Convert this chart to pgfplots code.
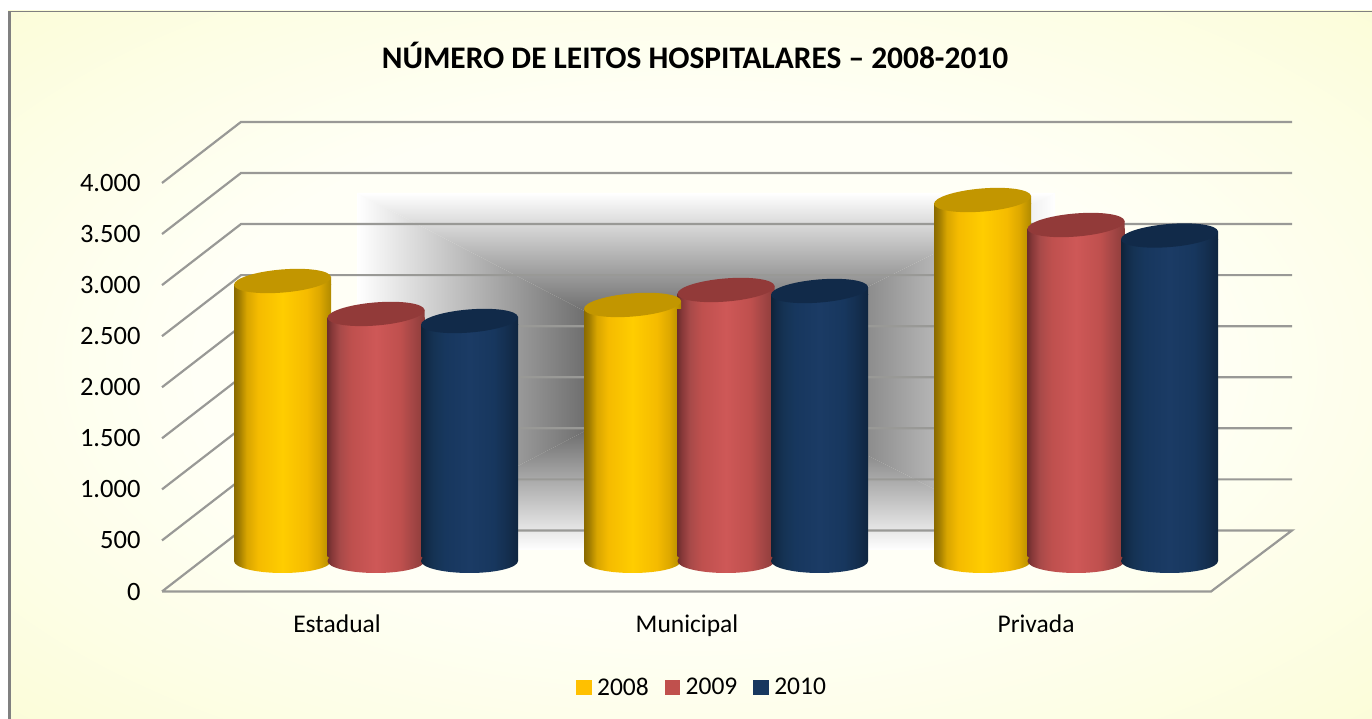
\documentclass[border=0pt]{standalone}
\usepackage{pgfplots}
\usepackage{pgfplotstable}
\usepackage{fontspec}
\setmainfont{Carlito}
\pgfplotsset{compat=1.18}

\definecolor{yA}{HTML}{8A6A00}\definecolor{yB}{HTML}{A07C00}\definecolor{yC}{HTML}{D8A500}
\definecolor{yD}{HTML}{F5BB00}\definecolor{yE}{HTML}{FFCD00}\definecolor{yF}{HTML}{DDA800}\definecolor{yG}{HTML}{B08A00}
\definecolor{rA}{HTML}{6E2E2E}\definecolor{rB}{HTML}{8A3A3A}\definecolor{rC}{HTML}{A84A49}
\definecolor{rD}{HTML}{BF504E}\definecolor{rE}{HTML}{CE5857}\definecolor{rF}{HTML}{A34645}\definecolor{rG}{HTML}{8C3C3A}
\definecolor{bA}{HTML}{0E2238}\definecolor{bB}{HTML}{112A47}\definecolor{bC}{HTML}{153354}
\definecolor{bD}{HTML}{17375E}\definecolor{bE}{HTML}{1B3B65}\definecolor{bF}{HTML}{142F50}\definecolor{bG}{HTML}{0F2540}
\definecolor{topY}{HTML}{C29600}\definecolor{topR}{HTML}{923A39}\definecolor{topB}{HTML}{112A49}
\definecolor{legY}{HTML}{FFC000}\definecolor{legR}{HTML}{C0504D}\definecolor{legB}{HTML}{17375E}
\definecolor{gridc}{HTML}{999996}
\definecolor{panelO}{HTML}{FBFCD6}\definecolor{panelM}{HTML}{FDFEE6}\definecolor{panelI}{HTML}{FFFFF6}

\newcommand\barshading[8]{\pgfdeclarehorizontalshading{#1}{100bp}{%
 color(0bp)=(#2); color(25bp)=(#2); color(27.5bp)=(#3); color(31.5bp)=(#4); color(37.5bp)=(#5);
 color(50bp)=(#6); color(62.5bp)=(#5); color(69bp)=(#7); color(75bp)=(#8); color(100bp)=(#8)}}
\barshading{barY}{yA}{yB}{yC}{yD}{yE}{yF}{yG}
\barshading{barR}{rA}{rB}{rC}{rD}{rE}{rF}{rG}
\barshading{barB}{bA}{bB}{bC}{bD}{bE}{bF}{bG}
\pgfdeclareradialshading{panelshade}{\pgfpoint{0bp}{0bp}}{%
 color(0bp)=(panelI); color(18bp)=(panelI); color(28bp)=(panelM); color(37bp)=(panelO); color(100bp)=(panelO)}

% top and bottom faces of a cylinder, centred on the data point
\newcommand\cylmarks[3]{%
 \pgfdeclareplotmark{cyltop#1}{%
  \begin{pgfscope}%
   \pgfpathmoveto{\pgfqpoint{-48.5pt}{-4pt}}%
   \pgfpathlineto{\pgfqpoint{48.5pt}{4pt}}%
   \pgfpathlineto{\pgfqpoint{48.5pt}{-4pt}}%
   \pgfpathclose
   \pgfshadepath{#2}{0}%
   \pgfusepath{}%
  \end{pgfscope}%
  \pgfpathellipse{\pgfpointorigin}{\pgfqpoint{48.5pt}{4pt}}{\pgfqpoint{-1pt}{11.5pt}}%
  \pgfsetfillcolor{#3}\pgfusepathqfill}%
 \pgfdeclareplotmark{cylbot#1}{%
  \begin{pgfscope}%
   \pgfpathellipse{\pgfpointorigin}{\pgfqpoint{48.5pt}{0pt}}{\pgfqpoint{0pt}{12pt}}%
   \pgfshadepath{#2}{0}%
   \pgfusepath{}%
  \end{pgfscope}}}
\cylmarks{Y}{barY}{topY}
\cylmarks{R}{barR}{topR}
\cylmarks{B}{barB}{topB}

\pgfplotstableread{
cat y08 y09 y10
0 2745 2422 2353
1 2510 2657 2647
2 3539 3294 3191
}\leitos

\newcommand\tfont{\fontsize{25.5}{30}\selectfont}
\newcommand\nfont{\fontsize{26.5}{30}\selectfont}
\newcommand\ttfontt{\fontsize{31.4}{36}\selectfont}
% one cylinder body: shading, shift, column, row, row+1
\newcommand\onebar[5]{\addplot[forget plot,ybar,bar width=97pt,bar shift=#2pt,draw=none,shading=#1,
  skip coords between index={0}{#4},skip coords between index={#5}{9}] table[x=cat,y expr=\thisrow{#3}-39] {\leitos};}

\begin{document}
\begin{tikzpicture}
\useasboundingbox (0,0) rectangle (1372pt,719pt);
\begin{scope}[x=1pt,y=-1pt,shift={(0pt,719pt)}]
 \fill[white] (0,0) rectangle (1372,719);
 \shade[shading=panelshade] (8,11) rectangle (1372,719);
 \fill[gray] (8,11) rectangle (11,719);
 \fill[gray] (8,11) rectangle (1372,12);
 % wall gradient
 \def\cc{black!85}
 \begin{scope}\clip (357,193)--(700,371)--(357,550)--cycle;
  \shade[left color=white,right color=\cc] (357,193) rectangle (700,550);\end{scope}
 \begin{scope}\clip (1055,193)--(700,371)--(1055,550)--cycle;
  \shade[left color=\cc,right color=white] (700,193) rectangle (1055,550);\end{scope}
 \begin{scope}\clip (357,193)--(700,371)--(1055,193)--cycle;
  \shade[top color=white,bottom color=\cc] (357,193) rectangle (1055,371);\end{scope}
 \begin{scope}\clip (357,550)--(700,371)--(1055,550)--cycle;
  \shade[top color=\cc,bottom color=white] (357,371) rectangle (1055,550);\end{scope}
 \node[font=\ttfontt\bfseries,anchor=center] at (695,55) {NÚMERO DE LEITOS HOSPITALARES – 2008-2010};
\end{scope}

% walls, floor, scale and categories
\begin{axis}[
 at={(162pt,127.5pt)},anchor=south west,scale only axis,
 width=1049pt,height=408.5pt,
 xmin=162,xmax=1211,ymin=0,ymax=4000,clip=false,
 axis line style={draw=none},major tick length=0pt,
 ytick={0,500,...,4000},
 xtick={337,687,1036},xticklabels={Estadual,Municipal,Privada},
 scaled y ticks=false,
 /pgf/number format/.cd,1000 sep={.},assume math mode=true,
 /pgfplots/.cd,
 yticklabel style={font=\nfont,anchor=east,xshift=-18pt,yshift=0pt},
 xticklabel style={font=\tfont,anchor=center,yshift=-35pt,text height=17pt,text depth=5pt},
]
\addplot[gridc,line width=2.2pt] coordinates {(162,0)(241,598)(1292,598)(1211,0)(162,0)};
\addplot[gridc,line width=2.2pt] coordinates {(162,500)(241,1098)(1292,1098)};
\addplot[gridc,line width=2.2pt] coordinates {(162,1000)(241,1598)(1292,1598)};
\addplot[gridc,line width=2.2pt] coordinates {(162,1500)(241,2098)(1292,2098)};
\addplot[gridc,line width=2.2pt] coordinates {(162,2000)(241,2598)(1292,2598)};
\addplot[gridc,line width=2.2pt] coordinates {(162,2500)(241,3098)(1292,3098)};
\addplot[gridc,line width=2.2pt] coordinates {(162,3000)(241,3598)(1292,3598)};
\addplot[gridc,line width=2.2pt] coordinates {(162,3500)(241,4098)(1292,4098)};
\addplot[gridc,line width=2.2pt] coordinates {(162,4000)(241,4598)(1292,4598)};
\end{axis}

% cylinders
\begin{axis}[
 at={(0pt,0pt)},anchor=south west,scale only axis,
 width=1372pt,height=719pt,
 xmin=-1.074286,xmax=2.845714,ymin=-1549.02,ymax=5500,
 clip=false,hide axis,
 legend style={at={(576pt,20pt)},anchor=south west,draw=none,fill=none,
   font=\tfont,legend columns=3,
   /tikz/every even column/.append style={column sep=14pt},
   /tikz/every odd column/.append style={column sep=4pt},
   inner sep=0pt},
 legend image code/.code={\fill[#1] (0pt,-7pt) rectangle (14.5pt,7pt);},
]
\addplot[forget plot,only marks,mark=cylbotY] table[x expr=\coordindex-0.26714,y expr=0] {\leitos};
\onebar{barY}{-93.5}{y08}{0}{1}\onebar{barY}{-93.5}{y08}{1}{2}\onebar{barY}{-93.5}{y08}{2}{3}
\addplot[forget plot,only marks,mark=cyltopY] table[x expr=\coordindex-0.26714,y=y08] {\leitos};

\addplot[forget plot,only marks,mark=cylbotR] table[x expr=\coordindex,y expr=0] {\leitos};
\onebar{barR}{0}{y09}{0}{1}\onebar{barR}{0}{y09}{1}{2}\onebar{barR}{0}{y09}{2}{3}
\addplot[forget plot,only marks,mark=cyltopR] table[x expr=\coordindex,y=y09] {\leitos};

\addplot[forget plot,only marks,mark=cylbotB] table[x expr=\coordindex+0.26714,y expr=0] {\leitos};
\onebar{barB}{93.5}{y10}{0}{1}\onebar{barB}{93.5}{y10}{1}{2}\onebar{barB}{93.5}{y10}{2}{3}
\addplot[forget plot,only marks,mark=cyltopB] table[x expr=\coordindex+0.26714,y=y10] {\leitos};

\addlegendimage{legY,fill=legY}
\addlegendimage{legR,fill=legR}
\addlegendimage{legB,fill=legB}
\legend{2008,2009,2010}
\end{axis}
\end{tikzpicture}
\end{document}
